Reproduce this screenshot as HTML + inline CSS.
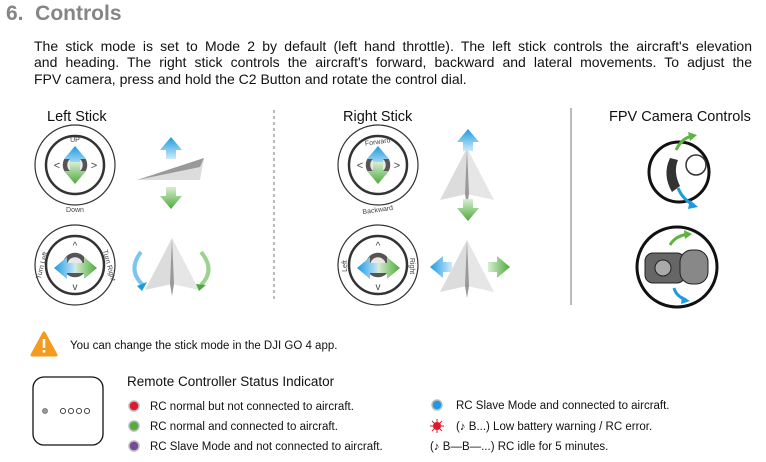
<!DOCTYPE html>
<html><head><meta charset="utf-8"><style>
html,body{margin:0;padding:0;background:#fff;}
body{width:766px;height:462px;overflow:hidden;position:relative;font-family:"Liberation Sans",Arial,sans-serif;}
.t{position:absolute;left:6px;top:2px;font-size:21px;font-weight:bold;color:#858585;}
.p{position:absolute;left:34px;top:38px;width:718px;font-size:14px;line-height:16.3px;color:#111;}
.p div{text-align:justify;text-align-last:justify;white-space:nowrap;}
.p div.l{text-align-last:left;}
svg{position:absolute;left:0;top:0;}
</style></head><body>
<div class="t">6.&nbsp; Controls</div>
<div class="p"><div style="white-space:normal">The stick mode is set to Mode 2 by default (left hand throttle). The left stick controls the aircraft's elevation</div><div style="white-space:normal">and heading. The right stick controls the aircraft's forward, backward and lateral movements. To adjust the</div><div class="l">FPV camera, press and hold the C2 Button and rotate the control dial.</div></div>
<svg width="766" height="462" viewBox="0 0 766 462" font-family="Liberation Sans, Arial, sans-serif">
<defs>
<linearGradient id="bu" x1="0" y1="0" x2="0" y2="1"><stop offset="0" stop-color="#1e9be0"/><stop offset="1" stop-color="#cfeaf8"/></linearGradient>
<linearGradient id="gd" x1="0" y1="1" x2="0" y2="0"><stop offset="0" stop-color="#4caa3a"/><stop offset="1" stop-color="#d8eed2"/></linearGradient>
<g id="au"><path d="M0,-13 L11,0 L5,0 L5,9 L-5,9 L-5,0 L-11,0Z" fill="url(#bu)"/></g>
<g id="ad"><path d="M0,13 L11,0 L5,0 L5,-9 L-5,-9 L-5,0 L-11,0Z" fill="url(#gd)"/></g>
<linearGradient id="bl" x1="0" y1="0" x2="1" y2="0"><stop offset="0" stop-color="#1e9be0"/><stop offset="1" stop-color="#cfeaf8"/></linearGradient>
<linearGradient id="gr" x1="1" y1="0" x2="0" y2="0"><stop offset="0" stop-color="#4caa3a"/><stop offset="1" stop-color="#d8eed2"/></linearGradient>
<g id="al"><path d="M-13,0 L0,-11 L0,-5 L9,-5 L9,5 L0,5 L0,11Z" fill="url(#bl)"/></g>
<g id="ar"><path d="M13,0 L0,-11 L0,-5 L-9,-5 L-9,5 L0,5 L0,11Z" fill="url(#gr)"/></g>
<g id="disc">
<circle r="40" fill="#fff" stroke="#333" stroke-width="1.2"/>
<circle r="29" fill="#fff" stroke="#333" stroke-width="2.5"/>
<circle r="10" fill="#e8e8e8" stroke="#555" stroke-width="4.5"/>
</g>
<g id="plane"><path d="M0,0 L-27,52 L0,46Z" fill="#dcdcdc"/><path d="M0,0 L27,52 L0,46Z" fill="#e6e6e6"/><path d="M0,0 L-2,46 L0,58 L2,46Z" fill="#999"/></g>
</defs>
<text x="47" y="121" font-size="14.5" fill="#111">Left Stick</text>
<text x="343" y="121" font-size="14.5" fill="#111">Right Stick</text>
<text x="609" y="121" font-size="14.5" fill="#111">FPV Camera Controls</text>
<line x1="274" y1="110" x2="274" y2="300" stroke="#777" stroke-dasharray="3,3"/>
<line x1="571" y1="108" x2="571" y2="305" stroke="#777"/>
<use href="#disc" x="75" y="165"/>
<text x="75" y="142" font-size="7" fill="#444" text-anchor="middle">UP</text>
<text x="75" y="212" font-size="7" fill="#444" text-anchor="middle">Down</text>
<text x="57" y="169" font-size="11" fill="#444" text-anchor="middle">&lt;</text>
<text x="94" y="169" font-size="11" fill="#444" text-anchor="middle">&gt;</text>
<use href="#au" x="75" y="159"/><use href="#ad" x="75" y="171"/>
<path d="M137,180 L204,158 L200,180Z" fill="#dcdcdc"/><path d="M137,180 L204,158 L200,167Z" fill="#999"/>
<use href="#au" x="171" y="150"/><use href="#ad" x="171" y="196"/>
<use href="#disc" x="75" y="265"/>
<text x="75" y="249" font-size="10" fill="#444" text-anchor="middle">^</text>
<text x="75" y="290" font-size="10" fill="#444" text-anchor="middle">v</text>
<text transform="translate(44,266) rotate(-75)" font-size="7" fill="#444" text-anchor="middle">Turn Left</text>
<text transform="translate(107,266) rotate(75)" font-size="7" fill="#444" text-anchor="middle">Turn Right</text>
<use href="#al" x="67" y="268"/><use href="#ar" x="84" y="268"/>
<use href="#plane" x="172" y="238"/>
<path d="M141,252 Q127,270 143,285" fill="none" stroke="#7cc6ee" stroke-width="4"/><path d="M137,286 L147,282 L142,291Z" fill="#1e9be0"/>
<path d="M201,252 Q216,270 201,285" fill="none" stroke="#9dd38f" stroke-width="4"/><path d="M196,284 L206,285 L199,291Z" fill="#4caa3a"/>
<use href="#disc" x="378" y="165"/>
<text transform="translate(378,144) rotate(-8)" font-size="7" fill="#444" text-anchor="middle">Forward</text>
<text transform="translate(378,212) rotate(-8)" font-size="7" fill="#444" text-anchor="middle">Backward</text>
<text x="360" y="169" font-size="11" fill="#444" text-anchor="middle">&lt;</text>
<text x="397" y="169" font-size="11" fill="#444" text-anchor="middle">&gt;</text>
<use href="#au" x="378" y="159"/><use href="#ad" x="378" y="171"/>
<use href="#plane" x="467" y="148"/>
<use href="#au" x="468" y="142"/><use href="#ad" x="468" y="208"/>
<use href="#disc" x="378" y="265"/>
<text x="378" y="249" font-size="10" fill="#444" text-anchor="middle">^</text>
<text x="378" y="290" font-size="10" fill="#444" text-anchor="middle">v</text>
<text transform="translate(347,266) rotate(-90)" font-size="7" fill="#444" text-anchor="middle">Left</text>
<text transform="translate(410,266) rotate(90)" font-size="7" fill="#444" text-anchor="middle">Right</text>
<use href="#al" x="370" y="268"/><use href="#ar" x="387" y="268"/>
<use href="#plane" x="467" y="240"/>
<use href="#al" x="443" y="267"/><use href="#ar" x="497" y="267"/>
<circle cx="679" cy="172" r="30" fill="#fff" stroke="#111" stroke-width="3"/>
<path d="M670,158 Q662,175 672,192 L680,186 Q673,172 678,160Z" fill="#333"/>
<circle cx="696" cy="165" r="10" fill="none" stroke="#333" stroke-width="1.5"/>
<path d="M676,150 Q682,138 692,136" fill="none" stroke="#5db540" stroke-width="3"/><path d="M688,132 L697,135 L690,141Z" fill="#5db540"/>
<path d="M678,188 Q683,200 694,205" fill="none" stroke="#1e9be0" stroke-width="3"/><path d="M690,200 L698,207 L688,209Z" fill="#1e9be0"/>
<circle cx="677" cy="267" r="40" fill="#fff" stroke="#111" stroke-width="3"/>
<rect x="645" y="253" width="40" height="30" rx="8" fill="#666" stroke="#222"/>
<rect x="680" y="250" width="28" height="34" rx="12" fill="#888" stroke="#222"/>
<circle cx="663" cy="268" r="8" fill="#aaa" stroke="#222"/>
<path d="M670,245 Q675,236 688,234" fill="none" stroke="#5db540" stroke-width="3"/><path d="M684,230 L692,234 L685,239Z" fill="#5db540"/>
<path d="M674,288 Q676,296 686,300" fill="none" stroke="#1e9be0" stroke-width="3"/><path d="M682,296 L690,301 L681,304Z" fill="#1e9be0"/>
<path d="M44,333 L56,355 L32,355Z" fill="#f39a1f" stroke="#f39a1f" stroke-width="3" stroke-linejoin="round"/>
<rect x="42.7" y="339" width="2.6" height="9" fill="#fff"/><rect x="42.7" y="350" width="2.6" height="2.6" fill="#fff"/>
<text x="70" y="349" font-size="11.5" fill="#111">You can change the stick mode in the DJI GO 4 app.</text>
<rect x="33" y="377" width="70" height="68" rx="11" fill="#fff" stroke="#111" stroke-width="1.3"/>
<circle cx="45" cy="411" r="2.5" fill="#999" stroke="#666" stroke-width=".7"/>
<g fill="none" stroke="#333" stroke-width=".9"><circle cx="63" cy="411" r="2.6"/><circle cx="71" cy="411" r="2.6"/><circle cx="79" cy="411" r="2.6"/><circle cx="87" cy="411" r="2.6"/></g>
<text x="127" y="386" font-size="13.5" fill="#111">Remote Controller Status Indicator</text>
<g stroke="#bbb" stroke-width="1.5">
<circle cx="134" cy="406" r="5" fill="#e0182c"/>
<circle cx="134" cy="426" r="5" fill="#55ac3b"/>
<circle cx="134" cy="446" r="5" fill="#7b4a96"/>
<circle cx="437" cy="405" r="5" fill="#1e9be0"/>
</g>
<g stroke="#e0182c" stroke-width="1"><line x1="430" y1="426" x2="444" y2="426"/><line x1="437" y1="419" x2="437" y2="433"/><line x1="432" y1="421" x2="442" y2="431"/><line x1="442" y1="421" x2="432" y2="431"/></g>
<circle cx="437" cy="426" r="4" fill="#e0182c"/>
<g font-size="11.5" fill="#111">
<text x="150" y="410">RC normal but not connected to aircraft.</text>
<text x="150" y="430">RC normal and connected to aircraft.</text>
<text x="150" y="450">RC Slave Mode and not connected to aircraft.</text>
<text x="456" y="409">RC Slave Mode and connected to aircraft.</text>
<text x="456" y="430">(♪ B...) Low battery warning / RC error.</text>
<text x="430" y="450">(♪ B—B—...) RC idle for 5 minutes.</text>
</g>
</svg>
</body></html>
